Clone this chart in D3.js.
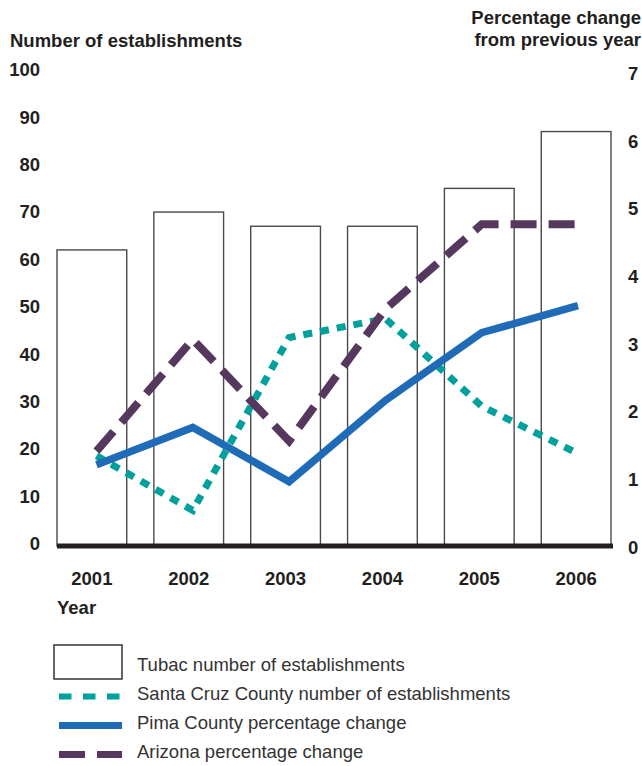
<!DOCTYPE html>
<html>
<head>
<meta charset="utf-8">
<script src="https://cdn.jsdelivr.net/npm/d3@7"></script>
<style>
  html, body { margin: 0; padding: 0; background: #fff; }
  svg { display: block; }
</style>
</head>
<body>
<svg id="chart" width="642" height="766"></svg>
<script>
// ---- data ----
const years = ["2001", "2002", "2003", "2004", "2005", "2006"];
const tubacEstablishments = [62, 70, 67, 67, 75, 87];
const santaCruzEstablishments = [18.5, 7, 43.5, 47.5, 29, 19];
const pimaPctChange = [1.2, 1.75, 0.95, 2.15, 3.15, 3.55];
const arizonaPctChange = [1.4, 3.05, 1.55, 3.5, 4.75, 4.75];
const leftTicks = [0, 10, 20, 30, 40, 50, 60, 70, 80, 90, 100];
const rightTicks = [0, 1, 2, 3, 4, 5, 6, 7];
const legendLabels = [
  "Tubac number of establishments",
  "Santa Cruz County number of establishments",
  "Pima County percentage change",
  "Arizona percentage change"
];

// ---- styles ----
const FONT = "'Liberation Sans', Arial, Helvetica, sans-serif";
const INK = "#231f20";
const TEAL = "#00a19c";
const BLUE = "#1f6bb8";
const PURPLE = "#56385e";
const BAR_STROKE = "#4a4a4a";
const BOLD_SIZE = 18.5;
const LEGEND_SIZE = 18.5;

const svg = d3.select("#chart");

// ---- scales ----
const x = d3.scaleBand().domain(years).range([57, 611]).paddingInner(0.28).paddingOuter(0);
const xp = d3.scalePoint().domain(years).range([96.5, 578]);
const yL = d3.scaleLinear().domain([0, 100]).range([543.5, 70]);
const yR = d3.scaleLinear().domain([0, 7]).range([546, 72]);
const baselineY = 546;

// ---- bars ----
svg.append("g").selectAll("rect")
  .data(years.map((y, i) => ({ year: y, v: tubacEstablishments[i] })))
  .join("rect")
  .attr("x", d => x(d.year))
  .attr("y", d => yL(d.v))
  .attr("width", x.bandwidth())
  .attr("height", d => baselineY - yL(d.v))
  .attr("fill", "#fff")
  .attr("stroke", BAR_STROKE)
  .attr("stroke-width", 1.4);

// ---- baseline ----
svg.append("line")
  .attr("x1", x.range()[0]).attr("x2", x.range()[1] + 2)
  .attr("y1", baselineY).attr("y2", baselineY)
  .attr("stroke", INK).attr("stroke-width", 5);

// ---- lines ----
function drawLine(values, yScale, color, width, dash) {
  const line = d3.line()
    .x((d, i) => xp(years[i]))
    .y(d => yScale(d));
  svg.append("path")
    .datum(values)
    .attr("d", line)
    .attr("fill", "none")
    .attr("stroke", color)
    .attr("stroke-width", width)
    .attr("stroke-linejoin", "miter")
    .attr("stroke-linecap", "butt")
    .attr("stroke-dasharray", dash);
}
drawLine(santaCruzEstablishments, yL, TEAL, 7, "9,8");
drawLine(pimaPctChange, yR, BLUE, 7.5, null);
drawLine(arizonaPctChange, yR, PURPLE, 8, "26,12");

// ---- axes ----
function styleAxis(g) {
  g.select(".domain").remove();
  g.selectAll("text")
    .attr("font-family", FONT)
    .attr("font-size", BOLD_SIZE)
    .attr("font-weight", "bold")
    .attr("fill", INK);
}
svg.append("g")
  .attr("transform", "translate(40,0)")
  .call(d3.axisLeft(yL).tickValues(leftTicks).tickFormat(d3.format("d")).tickSize(0).tickPadding(0))
  .call(styleAxis);

svg.append("g")
  .attr("transform", "translate(628,1.5)")
  .call(d3.axisRight(yR).tickValues(rightTicks).tickFormat(d3.format("d")).tickSize(0).tickPadding(0))
  .call(styleAxis);

svg.append("g")
  .attr("transform", "translate(0,572)")
  .call(d3.axisBottom(x).tickSize(0).tickPadding(0))
  .call(styleAxis);

// ---- titles ----
function title(txt, tx, ty, anchor) {
  svg.append("text")
    .attr("x", tx).attr("y", ty)
    .attr("text-anchor", anchor)
    .attr("font-family", FONT)
    .attr("font-size", BOLD_SIZE)
    .attr("font-weight", "bold")
    .attr("fill", INK)
    .text(txt);
}
title("Number of establishments", 10, 46.5, "start");
title("Percentage change", 641, 24, "end");
title("from previous year", 641, 46, "end");
title("Year", 57, 614, "start");

// ---- legend ----
const legend = svg.append("g");
const rowBase = [671, 700, 729, 758];
legend.append("rect")
  .attr("x", 54).attr("y", 645).attr("width", 68).attr("height", 34)
  .attr("fill", "#fff").attr("stroke", "#333").attr("stroke-width", 1.5);
const legendSyms = [
  null,
  { color: TEAL, w: 6, dash: "12.5,11.5" },
  { color: BLUE, w: 7, dash: null },
  { color: PURPLE, w: 7, dash: "26,12" }
];
legendSyms.forEach((s, i) => {
  if (!s) return;
  legend.append("line")
    .attr("x1", 59).attr("x2", 122)
    .attr("y1", rowBase[i] - 3.5).attr("y2", rowBase[i] - 3.5)
    .attr("stroke", s.color).attr("stroke-width", s.w)
    .attr("stroke-dasharray", s.dash);
});
legend.selectAll("text.lbl")
  .data(legendLabels)
  .join("text")
  .attr("class", "lbl")
  .attr("x", 137)
  .attr("y", (d, i) => rowBase[i])
  .attr("font-family", FONT)
  .attr("font-size", LEGEND_SIZE)
  .attr("fill", "#333")
  .text(d => d);
</script>
</body>
</html>
